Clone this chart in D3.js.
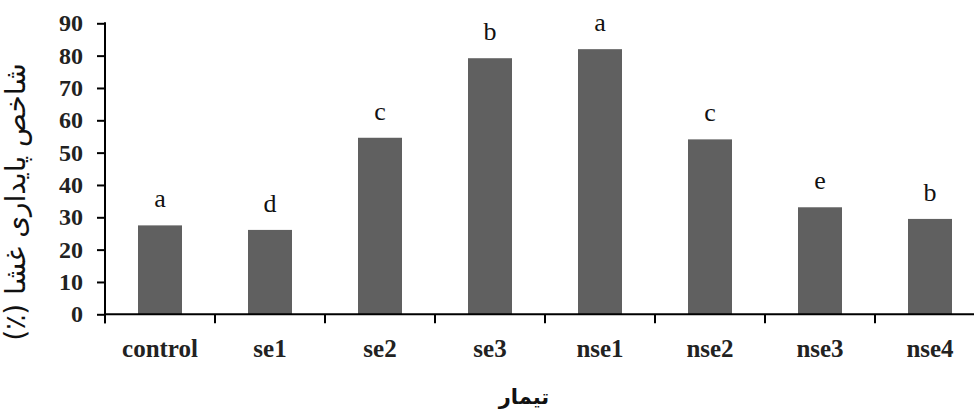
<!DOCTYPE html>
<html>
<head>
<meta charset="utf-8">
<script src="https://cdn.jsdelivr.net/npm/d3@7"></script>
<style>
html,body{margin:0;padding:0;background:#fff;}
svg{display:block;}
</style>
</head>
<body>
<svg id="chart" width="974" height="415"></svg>
<script>
const categories = ["control","se1","se2","se3","nse1","nse2","nse3","nse4"];
const values = [27.5, 26.1, 54.6, 79.2, 82.0, 54.1, 33.1, 29.5];
const letters = ["a","d","c","b","a","c","e","b"];
const yTicks = [0,10,20,30,40,50,60,70,80,90];
const yTitle = "شاخص پایداری غشا (٪)";
const xTitle = "تیمار";

const svg = d3.select("#chart");
const pLeft = 105, pRight = 985, pTop = 23.3, pBottom = 314.3;

const x = d3.scaleBand().domain(categories).range([pLeft, pRight])
  .paddingInner(0.6).paddingOuter(0.3);
const y = d3.scaleLinear().domain([0, 90]).range([pBottom, pTop]);
const step = x.step();

// bars
svg.selectAll("rect.bar").data(values).enter().append("rect")
  .attr("class","bar")
  .attr("x",(d,i)=>x(categories[i]))
  .attr("y",d=>y(d))
  .attr("width",x.bandwidth())
  .attr("height",d=>y(0)-y(d))
  .attr("fill","#606060");

// letters
svg.selectAll("text.lab").data(values).enter().append("text")
  .attr("class","lab")
  .attr("x",(d,i)=>x(categories[i])+x.bandwidth()/2)
  .attr("y",d=>y(d)-18)
  .attr("text-anchor","middle")
  .attr("font-family","'Liberation Serif', serif")
  .attr("font-size",26)
  .attr("fill","#111")
  .text((d,i)=>letters[i]);

// y axis
const yAxis = d3.axisLeft(y).tickValues(yTicks).tickSize(8).tickPadding(14);
const gy = svg.append("g").attr("transform",`translate(${pLeft},0)`).call(yAxis);
gy.select(".domain").remove();
gy.selectAll(".tick line").attr("stroke","#000").attr("stroke-width",2);
gy.selectAll(".tick text")
  .attr("font-family","'Liberation Serif', serif")
  .attr("font-weight","bold")
  .attr("font-size",24)
  .attr("fill","#222");
svg.append("line").attr("x1",pLeft).attr("x2",pLeft)
  .attr("y1",y(90)-1).attr("y2",pBottom+9)
  .attr("stroke","#000").attr("stroke-width",2);

// x axis
svg.append("line").attr("x1",pLeft).attr("x2",pRight)
  .attr("y1",pBottom).attr("y2",pBottom)
  .attr("stroke","#000").attr("stroke-width",2);
const bounds = categories.map(c => x(c) - step*x.paddingOuter());
bounds.push(pRight);
svg.selectAll("line.xt").data(bounds).enter().append("line")
  .attr("class","xt")
  .attr("x1",d=>d).attr("x2",d=>d)
  .attr("y1",pBottom).attr("y2",pBottom+9)
  .attr("stroke","#000").attr("stroke-width",2);
svg.selectAll("text.cat").data(categories).enter().append("text")
  .attr("class","cat")
  .attr("x",d=>x(d)+x.bandwidth()/2)
  .attr("y",357)
  .attr("text-anchor","middle")
  .attr("font-family","'Liberation Serif', serif")
  .attr("font-weight","bold")
  .attr("font-size",25)
  .attr("fill","#222")
  .text(d=>d);

// titles
svg.append("text")
  .attr("x",524).attr("y",404)
  .attr("text-anchor","middle")
  .attr("direction","rtl")
  .attr("font-family","'DejaVu Sans', sans-serif")
  .attr("font-weight","bold")
  .attr("font-size",21)
  .attr("fill","#111")
  .text(xTitle);

svg.append("text")
  .attr("transform","translate(25,202) rotate(-90)")
  .attr("text-anchor","middle")
  .attr("direction","rtl")
  .attr("font-family","'DejaVu Sans', sans-serif")
  .attr("font-size",28)
  .attr("fill","#111")
  .text(yTitle);
</script>
</body>
</html>
